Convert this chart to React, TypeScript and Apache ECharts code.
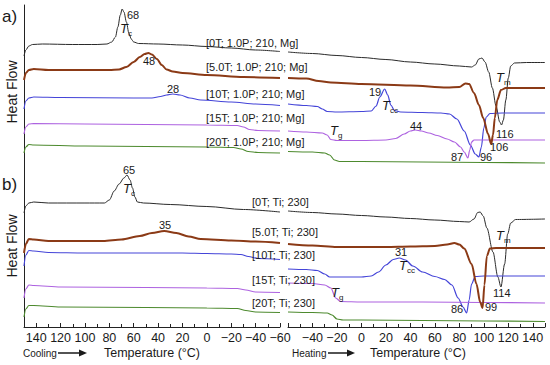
import React, { useEffect, useRef } from 'react';
import * as echarts from 'echarts';

// Panel a) cooling scans  [temperature °C, heat flow (a.u., offset)]
const a0Cool = [[150,271],[148.5,277],[146,281],[143,282.5],[135,283],[110,282.5],[90,282.5],[82,283],[78,285],[75,290],[73,300],[71,312],[69.5,318],[68,315],[66,305],[64,294],[62,288],[60,285],[56,283.5],[40,283],[20,282],[0,280.5],[-20,279],[-40,277],[-60,275.5]];
const a5Cool = [[150,247],[148.5,254],[146,257],[142,258],[130,257],[100,257],[80,257],[72,257.5],[66,260],[60,265],[55,270],[51,273],[48,274],[45,272.5],[41,268],[37,262],[33,257.5],[28,255.5],[20,254],[0,252],[-30,250],[-60,249]];
const a10Cool = [[150,218],[148.5,226],[146,229],[142,230],[120,229.5],[60,229],[45,229],[38,230.5],[33,232],[28,233],[22,232],[14,229],[5,227],[-20,225],[-40,223],[-60,221.5]];
const a15Cool = [[150,193],[148.5,200],[146,203],[142,203.5],[100,203],[50,202.5],[0,202],[-25,201.5],[-30,200],[-35,197.5],[-42,196.5],[-60,196]];
const a20Cool = [[150,174],[148.5,180],[146,182.5],[142,182],[100,181],[50,180.5],[0,180],[-22,179.5],[-28,178],[-34,175.5],[-42,174.5],[-60,174]];

// Panel a) heating scans
const a0Heat = [[-60,275],[-40,273.5],[-20,271.5],[0,269.5],[20,267.5],[40,265],[60,263],[80,261],[90,260],[93,262],[96,268],[98.5,269],[101,265],[104,255],[107,239],[110,221],[113,205],[114.5,202],[116,207],[118,227],[120,249],[122,261],[125,264],[135,264.5],[150,264.5]];
const a5Heat = [[-60,249],[-45,248.5],[-35,246],[-25,244.5],[0,243],[40,241.5],[70,239.5],[80,240],[85,243.5],[88,243],[92,234],[96,222],[99.5,209],[103.5,193],[106,183],[107.5,192],[109,209],[111,227],[114,237],[118,239],[150,239]];
const a10Heat = [[-60,223],[-45,221.5],[-36,220.5],[-32,218],[-28,215.5],[-20,215],[0,215.5],[8,216],[12,221],[15,230],[19,238],[21.5,232],[24,222],[27,216.5],[32,215],[50,214.5],[65,214],[72,213],[78,208],[84,196],[89,182],[93,173],[96,170],[98,180],[100,199],[102,210],[105,213.5],[115,214],[150,214]];
const a15Heat = [[-60,196],[-45,195],[-32,194],[-28,192],[-25,187.5],[-20,186.5],[0,186.5],[20,187],[28,188.5],[35,193],[40,196],[44,197],[49,196],[55,194],[62,191.5],[70,188],[76,185],[81,180],[84,175],[87,169],[88.5,177],[90,185],[92,187],[100,187],[150,187]];
const a20Heat = [[-60,175.5],[-40,175],[-30,174],[-26,172],[-22,167],[-18,165.5],[0,165.5],[50,165],[100,164.5],[150,164]];

// Panel b) cooling scans
const b0Cool = [[150,114],[148.5,121],[146,124],[142,125],[130,124],[100,124],[84,124],[80,127],[76,136],[72,143],[68,149],[65.5,152],[63,147],[61,139],[59,130],[57,125],[52,124],[30,122.5],[0,120.5],[-30,117.5],[-60,115]];
const b5Cool = [[150,74],[148.5,83],[146,88],[142,87.5],[130,86],[100,86],[85,86],[70,87.5],[55,91],[45,94],[35,96],[25,94],[15,90.5],[5,88],[-20,86.5],[-40,85.5],[-60,84]];
const b10Cool = [[150,61],[148.5,72],[146,76.5],[142,76],[130,74.5],[100,74],[50,74],[20,74],[0,73.5],[-20,73],[-28,72.5],[-34,70.5],[-42,68.5],[-60,67.5]];
const b15Cool = [[150,29],[148.5,38],[146,42],[142,41.5],[120,40],[50,39.5],[0,39],[-25,38.5],[-32,37],[-40,35],[-60,34.5]];
const b20Cool = [[150,10],[148.5,18],[146,21.5],[142,21.5],[120,20],[50,19.5],[0,19],[-25,18.5],[-32,16.5],[-40,15],[-60,14.5]];

// Panel b) heating scans
const b0Heat = [[-60,116],[-40,114.5],[-20,113],[0,111.5],[20,110],[40,108.5],[60,107],[80,105.5],[88,105],[92,108],[95,114.5],[97,115],[99.5,111],[102.5,99],[107.5,75],[111.5,50],[114,40],[117,63],[119.5,93],[122,104],[126,107.5],[150,108]];
const b5Heat = [[-60,83],[-40,81.5],[-20,80],[0,80],[20,80],[40,80.5],[60,81],[70,82.5],[76,84],[80,82.5],[84,78.5],[90,63],[94,43],[97,25],[99,19],[100.5,42],[102.5,71],[105,78.5],[110,79],[150,79]];
const b10Heat = [[-60,58],[-45,57.5],[-36,56.5],[-30,53],[-26,50],[-15,50],[0,50],[8,51],[14,55],[20,62],[26,67.5],[31,69],[36,67],[42,61],[50,55],[60,50.5],[68,47.5],[74,42],[79,29],[83,20],[86,14],[88,27],[90,43],[93,50.5],[100,51],[150,51]];
const b15Heat = [[-60,44],[-40,43.5],[-30,42],[-25,39],[-21,29],[-17,25.5],[0,25],[50,25],[100,24.5],[150,24]];
const b20Heat = [[-60,15],[-40,14.5],[-28,14],[-24,12],[-20,8],[-15,7],[0,7],[50,6.5],[100,6],[150,5.5]];

const panelALabels = ['[0T; 1.0P; 210, Mg]', '[5.0T; 1.0P; 210; Mg]', '[10T; 1.0P; 210; Mg]', '[15T; 1.0P; 210; Mg]', '[20T; 1.0P; 210; Mg]'];
const panelBLabels = ['[0T; Ti; 230]', '[5.0T; Ti; 230]', '[10T; Ti; 230]', '[15T; Ti; 230]', '[20T; Ti; 230]'];

const COLORS = ['#2a2a2a', '#8b3a16', '#4444d8', '#ad62e0', '#4d8a2e'];
const WIDTHS = [1, 2, 1.2, 1.2, 1.2];
const FONT = '"Liberation Sans", Arial, sans-serif';

export default function App() {
  const ref = useRef<HTMLDivElement>(null);
  useEffect(() => {
    document.body.style.margin = '0';
    const chart = echarts.init(ref.current!, null, { renderer: 'svg' });

    const coolSets = [a0Cool, a5Cool, a10Cool, a15Cool, a20Cool, b0Cool, b5Cool, b10Cool, b15Cool, b20Cool];
    const heatSets = [a0Heat, a5Heat, a10Heat, a15Heat, a20Heat, b0Heat, b5Heat, b10Heat, b15Heat, b20Heat];
    const mk = (data: number[][], i: number, axis: number) => ({
      type: 'line',
      xAxisIndex: axis,
      yAxisIndex: axis,
      data,
      symbol: 'none',
      smooth: 0.3,
      smoothMonotone: 'x',
      lineStyle: { color: COLORS[i % 5], width: WIDTHS[i % 5] },
      silent: true,
      z: i % 5 === 1 ? 3 : 2,
    });
    const series = [
      ...coolSets.map((d, i) => mk(d, i, 0)),
      ...heatSets.map((d, i) => mk(d, i, 1)),
    ];

    const fmt = (hide: number[]) => (v: number) =>
      hide.includes(v) ? '' : v < 0 ? '\u2212' + Math.abs(v) : String(v);
    const xBase = {
      type: 'value',
      min: -60,
      max: 150,
      interval: 20,
      splitLine: { show: false },
      axisLine: { onZero: false, lineStyle: { color: '#222', width: 1 } },
      axisTick: { inside: true, length: 4, lineStyle: { color: '#222' } },
      minorTick: { show: true, splitNumber: 2, length: 3, lineStyle: { color: '#222' } },
      axisLabel: { color: '#1a1a1a', fontSize: 12.5, fontFamily: FONT, margin: 4 },
    };

    const txt = (x: number, y: number, text: string, extra: any = {}) => ({
      type: 'text',
      x,
      y,
      z: 100,
      silent: true,
      style: {
        text,
        fill: '#1a1a1a',
        font: extra.italic ? `italic ${extra.fontSize || 13}px ${FONT}` : `${extra.fontSize || 11}px ${FONT}`,
        textAlign: extra.align || 'left',
        textVerticalAlign: 'middle',
      },
      rotation: extra.rotation || 0,
    });
    const sym = (x: number, y: number, sub: string) => [
      txt(x, y, 'T', { italic: true, fontSize: 13 }),
      txt(x + 8, y + 5, sub, { fontSize: 8 }),
    ];
    const arrow = (x1: number, x2: number, y: number) => [
      { type: 'line', z: 100, silent: true, shape: { x1, y1: y, x2, y2: y }, style: { stroke: '#1a1a1a', lineWidth: 1.5 } },
      { type: 'polygon', z: 100, silent: true, shape: { points: [[x2 - 2, y - 3.5], [x2 + 6, y], [x2 - 2, y + 3.5]] }, style: { fill: '#1a1a1a' } },
    ];

    const aY = [43, 67, 94, 118, 142];
    const bY = [202, 232, 255, 280, 303];

    const graphic = [
      txt(2, 16, 'a)', { fontSize: 17 }),
      txt(2, 184, 'b)', { fontSize: 17 }),
      txt(12, 92, 'Heat Flow', { fontSize: 14, align: 'center', rotation: Math.PI / 2 }),
      txt(12, 246, 'Heat Flow', { fontSize: 14, align: 'center', rotation: Math.PI / 2 }),
      ...panelALabels.map((t, i) => txt(206, aY[i], t)),
      ...panelBLabels.map((t, i) => txt(252, bY[i], t)),
      // panel a annotations
      txt(127, 15, '68'),
      ...sym(120, 28, 'c'),
      txt(143, 61, '48'),
      txt(167, 89, '28'),
      txt(369, 92, '19'),
      ...sym(382, 105, 'cc'),
      ...sym(330, 130, 'g'),
      txt(410, 126, '44'),
      txt(451, 157, '87'),
      txt(480, 157, '96'),
      txt(490, 147, '106'),
      txt(496, 134, '116'),
      ...sym(496, 77, 'm'),
      // panel b annotations
      txt(123, 170, '65'),
      ...sym(123, 188, 'c'),
      txt(159, 225, '35'),
      txt(395, 252, '31'),
      ...sym(399, 265, 'cc'),
      ...sym(331, 292, 'g'),
      txt(451, 309, '86'),
      txt(485, 307, '99'),
      txt(493, 293, '114'),
      ...sym(496, 235, 'm'),
      // axis titles
      txt(23, 353, 'Cooling', { fontSize: 10 }),
      ...arrow(58, 81, 353),
      txt(104, 353, 'Temperature (\u00B0C)', { fontSize: 12.5 }),
      txt(292, 353, 'Heating', { fontSize: 10 }),
      ...arrow(328, 349, 353),
      txt(370, 353, 'Temperature (\u00B0C)', { fontSize: 12.5 }),
    ];

    const option = {
      animation: false,
      backgroundColor: '#ffffff',
      grid: [
        { left: 24, right: 270, top: 5, bottom: 38 },
        { left: 288, right: 5, top: 5, bottom: 38 },
      ],
      xAxis: [
        { ...xBase, gridIndex: 0, inverse: true, axisLabel: { ...xBase.axisLabel, formatter: fmt([150]) } },
        { ...xBase, gridIndex: 1, axisLabel: { ...xBase.axisLabel, formatter: fmt([150, -60]) } },
      ],
      yAxis: [
        {
          type: 'value', gridIndex: 0, min: 0, max: 322, position: 'left',
          axisLine: { show: true, onZero: false, lineStyle: { color: '#222', width: 1 } },
          axisTick: { show: false }, axisLabel: { show: false }, splitLine: { show: false },
        },
        {
          type: 'value', gridIndex: 1, min: 0, max: 322, show: false,
          splitLine: { show: false },
        },
      ],
      series,
      graphic,
    };
    chart.setOption(option as any);
    return () => chart.dispose();
  }, []);
  return <div ref={ref} style={{ width: 550, height: 365 }} />;
}
